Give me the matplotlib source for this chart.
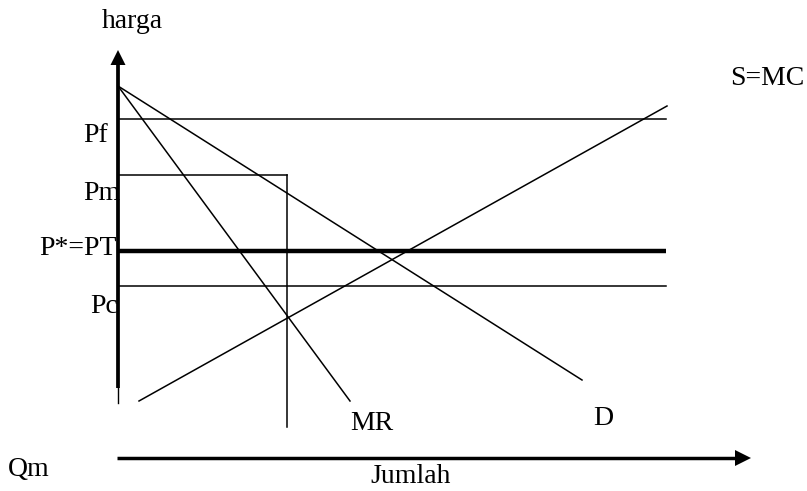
import matplotlib
matplotlib.use("Agg")
import matplotlib.pyplot as plt
from matplotlib.patches import Polygon

# ---- data (quantity Q, price P units; origin at the axes corner) ----
price_levels = {"Pf": 339, "Pm": 283, "PT": 207, "Pc": 172}
Q_end_horizontal = 548          # right end of the Pf, PT, Pc lines
Qm = 169                        # monopoly quantity
Qm_bottom = 31                  # lower end of the Qm vertical line
demand_Q = [0, 464]
demand_P = [372, 78]
mr_Q = [0, 232]
mr_P = [372, 57]
mc_Q = [21, 549]
mc_P = [57, 352]
axis_P_top = 408                # arrow tip of price axis
axis_Q_right = 633              # arrow tip of quantity axis

labels = ["harga", "Pf", "Pm", "P*=PT", "Pc", "MR", "D", "S=MC", "Qm", "Jumlah"]

# ---- figure ----
fig = plt.figure(figsize=(8.07, 4.91), dpi=100)
ax = fig.add_axes([0, 0, 1, 1])
ax.set_xlim(-118, 689)
ax.set_ylim(-33, 458)
ax.axis("off")

k = "black"
thin = 1.1

# price axis (thick) with arrow head
ax.plot([0, 0], [70, axis_P_top - 15], color=k, lw=2.7, solid_capstyle="butt")
ax.plot([0, 0], [55, 70], color=k, lw=1.0)
ax.add_patch(Polygon([[-7.5, axis_P_top - 15], [7.5, axis_P_top - 15], [0, axis_P_top]],
                     closed=True, color=k, lw=0))

# quantity axis with arrow head
ax.plot([-1, axis_Q_right - 16], [0, 0], color=k, lw=2.5, solid_capstyle="butt")
ax.add_patch(Polygon([[axis_Q_right - 16, -8], [axis_Q_right - 16, 8], [axis_Q_right, 0]],
                     closed=True, color=k, lw=0))

# horizontal price lines
ax.plot([0, Q_end_horizontal], [price_levels["Pf"]] * 2, color=k, lw=thin)
ax.plot([0, Q_end_horizontal], [price_levels["PT"]] * 2, color=k, lw=3.2, solid_capstyle="butt")
ax.plot([0, Q_end_horizontal], [price_levels["Pc"]] * 2, color=k, lw=thin)

# Pm rectangle edge and Qm vertical
ax.plot([0, Qm], [price_levels["Pm"]] * 2, color=k, lw=thin)
ax.plot([Qm, Qm], [price_levels["Pm"], Qm_bottom], color=k, lw=thin)

# curves
ax.plot(demand_Q, demand_P, color=k, lw=thin)
ax.plot(mr_Q, mr_P, color=k, lw=thin)
ax.plot(mc_Q, mc_P, color=k, lw=thin)

# texts
font = dict(family=["Liberation Serif", "DejaVu Serif"], size=20, color=k)
ax.text(14, 430, labels[0], ha="center", va="baseline", **font)
ax.text(-35, 316, labels[1], ha="left", va="baseline", **font)
ax.text(-35, 258, labels[2], ha="left", va="baseline", **font)
ax.text(-1, 203, labels[3], ha="right", va="baseline", **font)
ax.text(-28, 145, labels[4], ha="left", va="baseline", **font)
ax.text(232, 28, labels[5], ha="left", va="baseline", **font)
ax.text(475, 33, labels[6], ha="left", va="baseline", **font)
ax.text(612, 373, labels[7], ha="left", va="baseline", **font)
ax.text(-110, -18, labels[8], ha="left", va="baseline", **font)
ax.text(252, -25, labels[9], ha="left", va="baseline", **font)

fig.savefig("out.png", dpi=100, facecolor="white")
